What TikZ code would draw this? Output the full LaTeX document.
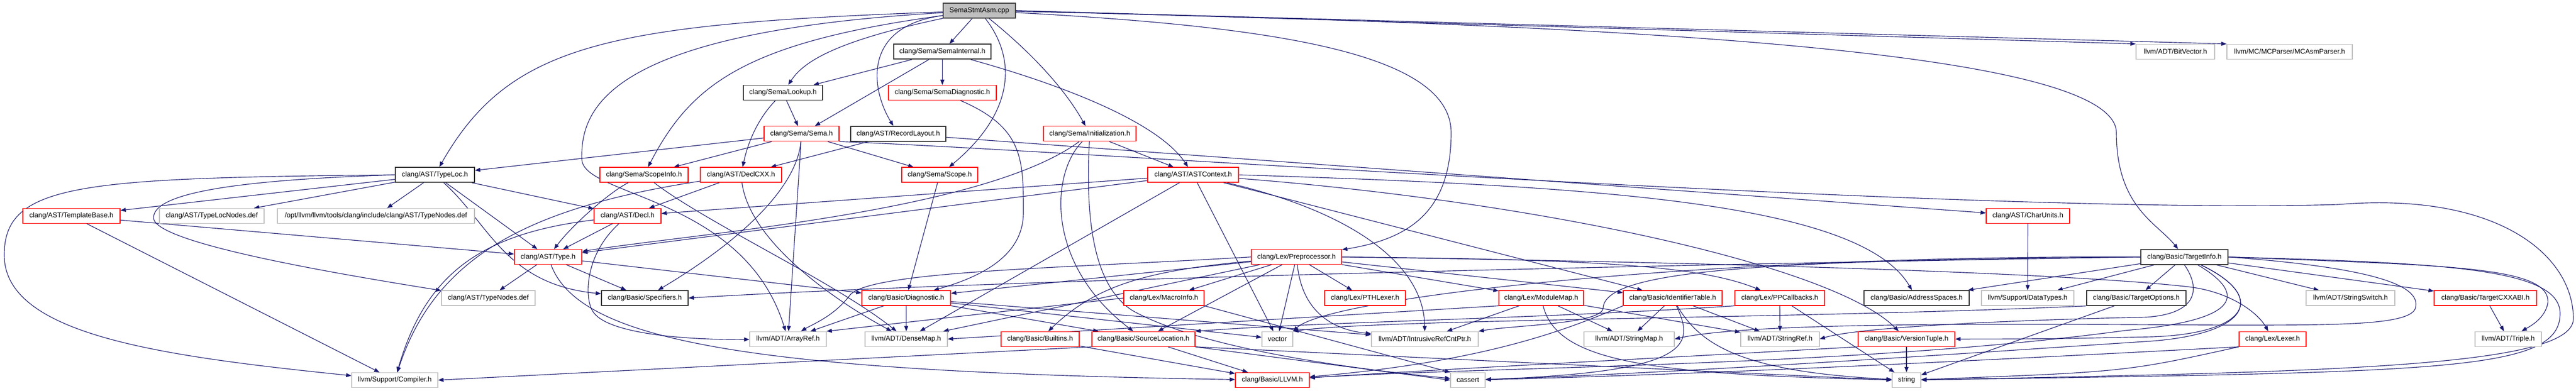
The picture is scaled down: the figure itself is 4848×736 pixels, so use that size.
\documentclass[tikz,border=0pt]{standalone}
\usepackage{fontspec}
\setmainfont{Liberation Sans}
\usetikzlibrary{arrows.meta,backgrounds}
\definecolor{edgec}{HTML}{191970}
\definecolor{grayb}{HTML}{BFBFBF}
\definecolor{mainfill}{HTML}{BFBFBF}
\definecolor{mainbd}{HTML}{404040}
\newcommand{\mknd}[5]{\node[#1,minimum width=#2pt] (#3) at (#4) {#5};}
\begin{document}
\begin{tikzpicture}[x=1pt,y=-1pt,
  nd/.style={draw, fill=white, minimum height=28pt, inner sep=0pt, line width=1.3pt, font=\fontsize{13.1pt}{15pt}\selectfont},
  rd/.style={nd, draw=red},
  bk/.style={nd, draw=black!80, line width=1.7pt},
  gy/.style={nd, draw=grayb},
  mainn/.style={nd, fill=mainfill, draw=mainbd, line width=1.8pt},
  edge/.style={draw=edgec, line width=1.15pt, -{Triangle[length=10pt,width=7.5pt]}}
]
\useasboundingbox (0,0) rectangle (4848,736);

% row 0
\mknd{mainn}{136}{main}{1843,20}{SemaStmtAsm.cpp}
% row 1
\mknd{bk}{183}{SemaInternal}{1773.5,97.3}{clang/Sema/SemaInternal.h}
\mknd{gy}{148}{BitVector}{4094,97.3}{llvm/ADT/BitVector.h}
\mknd{gy}{236}{MCAsmParser}{4309,97.3}{llvm/MC/MCParser/MCAsmParser.h}
% row 2
\mknd{bk}{149}{Lookup}{1473.5,174.6}{clang/Sema/Lookup.h}
\mknd{rd}{203}{SemaDiag}{1773.5,174.6}{clang/Sema/SemaDiagnostic.h}
% row 3
\mknd{rd}{141}{Sema}{1508.5,251.8}{clang/Sema/Sema.h}
\mknd{bk}{179}{RecordLayout}{1690.5,251.8}{clang/AST/RecordLayout.h}
\mknd{rd}{174}{Initialization}{2051,251.8}{clang/Sema/Initialization.h}
% row 4
\mknd{bk}{149}{TypeLoc}{818.5,329.1}{clang/AST/TypeLoc.h}
\mknd{rd}{166}{ScopeInfo}{1212,329.1}{clang/Sema/ScopeInfo.h}
\mknd{rd}{153}{DeclCXX}{1394.5,329.1}{clang/AST/DeclCXX.h}
\mknd{rd}{143}{Scope}{1768.5,329.1}{clang/Sema/Scope.h}
\mknd{rd}{171}{ASTContext}{2245.5,329.1}{clang/AST/ASTContext.h}
% row 5
\mknd{rd}{183}{TemplateBase}{134.5,406.4}{clang/AST/TemplateBase.h}
\mknd{gy}{197}{TypeLocNodes}{398.5,406.4}{clang/AST/TypeLocNodes.def}
\mknd{gy}{371}{OptTypeNodes}{707.5,406.4}{/opt/llvm/llvm/tools/clang/include/clang/AST/TypeNodes.def}
\mknd{rd}{126}{Decl}{1181,406.4}{clang/AST/Decl.h}
\mknd{rd}{157}{CharUnits}{3816.5,406.4}{clang/AST/CharUnits.h}
% row 6
\mknd{rd}{127}{Type}{1031.5,483.7}{clang/AST/Type.h}
\mknd{rd}{170}{Preprocessor}{2440,483.7}{clang/Lex/Preprocessor.h}
\mknd{bk}{164}{TargetInfo}{4111,483.7}{clang/Basic/TargetInfo.h}
% row 7
\mknd{gy}{176}{TypeNodes}{919,561}{clang/AST/TypeNodes.def}
\mknd{bk}{163}{Specifiers}{1213.5,561}{clang/Basic/Specifiers.h}
\mknd{rd}{167}{Diagnostic}{1705.5,561}{clang/Basic/Diagnostic.h}
\mknd{rd}{151}{MacroInfo}{2190.5,561}{clang/Lex/MacroInfo.h}
\mknd{rd}{152}{PTHLexer}{2569,561}{clang/Lex/PTHLexer.h}
\mknd{rd}{159}{ModuleMap}{2900.5,561}{clang/Lex/ModuleMap.h}
\mknd{rd}{186}{IdentTable}{3148,561}{clang/Basic/IdentifierTable.h}
\mknd{rd}{169}{PPCallbacks}{3349.5,561}{clang/Lex/PPCallbacks.h}
\mknd{bk}{198}{AddrSpaces}{3607,561}{clang/Basic/AddressSpaces.h}
\mknd{gy}{174}{DataTypes}{3816,561}{llvm/Support/DataTypes.h}
\mknd{bk}{187}{TargetOptions}{4020.5,561}{clang/Basic/TargetOptions.h}
\mknd{gy}{167}{StringSwitch}{4423.5,561}{llvm/ADT/StringSwitch.h}
\mknd{rd}{193}{TargetCXXABI}{4677.5,561}{clang/Basic/TargetCXXABI.h}
% row 8
\mknd{gy}{144}{ArrayRef}{1483,638.2}{llvm/ADT/ArrayRef.h}
\mknd{gy}{155}{DenseMap}{1705.5,638.2}{llvm/ADT/DenseMap.h}
\mknd{rd}{147}{Builtins}{1957.5,638.2}{clang/Basic/Builtins.h}
\mknd{rd}{194}{SourceLoc}{2152,638.2}{clang/Basic/SourceLocation.h}
\mknd{gy}{58}{vector}{2404,638.2}{vector}
\mknd{gy}{201}{IntrusiveRef}{2681.5,638.2}{llvm/ADT/IntrusiveRefCntPtr.h}
\mknd{gy}{170}{StringMap}{3066,638.2}{llvm/ADT/StringMap.h}
\mknd{gy}{148}{StringRef}{3350,638.2}{llvm/ADT/StringRef.h}
\mknd{rd}{182}{VersionTuple}{3588,638.2}{clang/Basic/VersionTuple.h}
\mknd{rd}{126}{Lexer}{4277,638.2}{clang/Lex/Lexer.h}
\mknd{gy}{125}{Triple}{4720.5,638.2}{llvm/ADT/Triple.h}
% row 9
\mknd{gy}{162}{Compiler}{743,715.5}{llvm/Support/Compiler.h}
\mknd{rd}{139}{LLVMh}{2394.5,715.5}{clang/Basic/LLVM.h}
\mknd{gy}{65}{cassert}{2762.5,715.5}{cassert}
\mknd{gy}{54}{string}{3588,715.5}{string}

\begin{scope}[on background layer]
% main
\draw[edge] (main) -- (SemaInternal);
\draw[edge] (main) .. controls (1620,50) and (1640,170) .. (RecordLayout);
\draw[edge] (main) .. controls (1150,45) and (960,80) .. (TypeLoc);
\draw[edge] (main) .. controls (3000,45) and (3983,90) .. (3983,250) .. controls (3983,390) and (4060,420) .. (TargetInfo);
\draw[edge] (main) .. controls (2400,50) and (2731,100) .. (2731,250) .. controls (2731,400) and (2650,450) .. (Preprocessor);
\draw[edge] (main) .. controls (1930,90) and (2000,160) .. (Initialization);
\draw[edge] (main) .. controls (1560,80) and (1510,120) .. (Lookup);
\draw[edge] (main) .. controls (1920,120) and (1900,220) .. (Scope);
\draw[edge] (main) .. controls (1400,80) and (1300,160) .. (ScopeInfo);
\draw[edge] (main) .. controls (1150,60) and (1092,200) .. (1095,300) .. controls (1098,370) and (1400,370) .. (ArrayRef);
\draw[edge] (main.east) -- (BitVector.north west);
\draw[edge] (main.east) -- (MCAsmParser.north west);
% SemaInternal
\draw[edge] (SemaInternal) -- (Sema);
\draw[edge] (SemaInternal) -- (SemaDiag);
\draw[edge] (SemaInternal) .. controls (2000,160) and (2180,230) .. (ASTContext);
\draw[edge] (SemaInternal) -- (Lookup);
% Lookup
\draw[edge] (Lookup) -- (Sema);
\draw[edge] (Lookup) .. controls (1420,230) and (1405,280) .. (DeclCXX);
% SemaDiagnostic
\draw[edge] (SemaDiag) .. controls (1926,240) and (1926,300) .. (1926,400) .. controls (1926,480) and (1850,520) .. (Diagnostic);
% Sema
\draw[edge] (Sema) -- (TypeLoc);
\draw[edge] (Sema) -- (ScopeInfo);
\draw[edge] (Sema) -- (Scope);
\draw[edge] (Sema) .. controls (1500,350) and (1400,450) .. (Specifiers);
\draw[edge] (Sema) -- (ArrayRef);
\draw[edge] (Sema.south east) .. controls (2000,282) and (3700,405) .. (4400,385) .. controls (4700,360) and (4843,480) .. (4843,600) .. controls (4843,690) and (4400,700) .. (string);
% RecordLayout
\draw[edge] (RecordLayout) -- (DeclCXX);
\draw[edge] (RecordLayout) -- (CharUnits);
% Initialization
\draw[edge] (Initialization) -- (ASTContext);
\draw[edge] (Initialization) .. controls (1850,400) and (1300,440) .. (Type);
\draw[edge] (Initialization) .. controls (1975,330) and (1970,500) .. (SourceLoc);
\draw[edge] (Initialization) .. controls (2042,420) and (2060,540) .. (2132,585) .. controls (2250,650) and (2500,690) .. (cassert);
% ASTContext
\draw[edge] (ASTContext) -- (Decl);
\draw[edge] (ASTContext) -- (Type);
\draw[edge] (ASTContext) -- (DenseMap);
\draw[edge] (ASTContext) -- (vector);
\draw[edge] (ASTContext) .. controls (2550,400) and (2680,500) .. (IntrusiveRef);
\draw[edge] (ASTContext) -- (IdentTable);
\draw[edge] (ASTContext) .. controls (2900,380) and (3450,500) .. (VersionTuple);
\draw[edge] (ASTContext.east) .. controls (3000,350) and (3500,380) .. (AddrSpaces);
% TypeLoc
\draw[edge] (TypeLoc.west) .. controls (150,335) and (8,345) .. (8,480) .. controls (8,630) and (300,670) .. (Compiler);
\draw[edge] (TypeLoc.west) .. controls (400,340) and (289,370) .. (289,410) .. controls (289,455) and (600,510) .. (TypeNodes);
\draw[edge] (TypeLoc) -- (TemplateBase);
\draw[edge] (TypeLoc) -- (TypeLocNodes);
\draw[edge] (TypeLoc) -- (OptTypeNodes);
\draw[edge] (TypeLoc) .. controls (920,420) and (950,535) .. (Specifiers);
\draw[edge] (TypeLoc) -- (Type);
\draw[edge] (TypeLoc) -- (Decl);
% TemplateBase
\draw[edge] (TemplateBase) -- (Type);
\draw[edge] (TemplateBase) -- (Compiler);
% Decl
\draw[edge] (Decl) .. controls (900,440) and (800,520) .. (Compiler);
\draw[edge] (Decl) -- (Type);
\draw[edge] (Decl) .. controls (1100,480) and (1100,560) .. (1115,585) .. controls (1140,630) and (1300,640) .. (ArrayRef);
% DeclCXX
\draw[edge] (DeclCXX) -- (Decl);
\draw[edge] (DeclCXX) .. controls (1000,390) and (820,480) .. (Compiler);
\draw[edge] (DeclCXX) .. controls (1410,450) and (1560,560) .. (DenseMap);
% ScopeInfo
\draw[edge] (ScopeInfo) .. controls (1150,360) and (1080,420) .. (Type);
\draw[edge] (ScopeInfo) .. controls (1330,420) and (1570,530) .. (DenseMap);
% Scope
\draw[edge] (Scope) -- (Diagnostic);
% Type
\draw[edge] (Type) -- (TypeNodes);
\draw[edge] (Type) -- (Specifiers);
\draw[edge] (Type) -- (Diagnostic);
\draw[edge] (Type) .. controls (1090,640) and (1400,700) .. (LLVMh);
% CharUnits
\draw[edge] (CharUnits) -- (DataTypes);
% Preprocessor
\draw[edge] (Preprocessor) -- (Diagnostic);
\draw[edge] (Preprocessor) -- (DenseMap);
\draw[edge] (Preprocessor) .. controls (2150,510) and (2060,540) .. (Builtins);
\draw[edge] (Preprocessor) -- (MacroInfo);
\draw[edge] (Preprocessor) -- (SourceLoc);
\draw[edge] (Preprocessor) -- (vector);
\draw[edge] (Preprocessor) .. controls (2450,580) and (2500,620) .. (IntrusiveRef);
\draw[edge] (Preprocessor) -- (PTHLexer);
\draw[edge] (Preprocessor) -- (ModuleMap);
\draw[edge] (Preprocessor) -- (IdentTable);
\draw[edge] (Preprocessor.east) .. controls (3000,488) and (3200,500) .. (PPCallbacks);
\draw[edge] (Preprocessor.east) .. controls (3300,495) and (3900,515) .. (4120,540) .. controls (4200,550) and (4250,590) .. (Lexer);
\draw[edge] (Preprocessor.west) .. controls (2000,505) and (1640,510) .. (1600,555) .. controls (1570,595) and (1530,610) .. (ArrayRef);
% Diagnostic
\draw[edge] (Diagnostic) -- (ArrayRef);
\draw[edge] (Diagnostic) -- (DenseMap);
\draw[edge] (Diagnostic) -- (SourceLoc);
\draw[edge] (Diagnostic) -- (vector);
\draw[edge] (Diagnostic) -- (IntrusiveRef);
% MacroInfo
\draw[edge] (MacroInfo.west) -- (ArrayRef.north east);
\draw[edge] (MacroInfo.south east) -- (cassert.north west);
% ModuleMap
\draw[edge] (ModuleMap.south west) -- (DenseMap.east);
\draw[edge] (ModuleMap) -- (IntrusiveRef);
\draw[edge] (ModuleMap) -- (StringMap);
\draw[edge] (ModuleMap) -- (StringRef);
\draw[edge] (ModuleMap) .. controls (2930,680) and (3100,705) .. (string);
% IdentifierTable
\draw[edge] (IdentTable.south west) .. controls (2950,620) and (2800,680) .. (LLVMh);
\draw[edge] (IdentTable) -- (StringMap);
\draw[edge] (IdentTable) -- (StringRef);
\draw[edge] (IdentTable) .. controls (3190,650) and (3185,700) .. (cassert);
\draw[edge] (IdentTable) .. controls (3200,650) and (3280,700) .. (string);
% PPCallbacks
\draw[edge] (PPCallbacks.south west) .. controls (2900,600) and (2500,605) .. (SourceLoc.north east);
\draw[edge] (PPCallbacks) -- (StringRef);
\draw[edge] (PPCallbacks) -- (string);
% TargetOptions
\draw[edge] (TargetOptions.south west) .. controls (3400,600) and (2600,600) .. (vector.north east);
\draw[edge] (TargetOptions) -- (string);
% TargetCXXABI
\draw[edge] (TargetCXXABI) -- (Triple);
% TargetInfo
\draw[edge] (TargetInfo.west) .. controls (3000,500) and (1800,530) .. (Specifiers.east);
\draw[edge] (TargetInfo.west) .. controls (3300,490) and (3020,510) .. (3017,580) .. controls (3015,610) and (2850,612) .. (IntrusiveRef.north east);
\draw[edge] (TargetInfo.west) .. controls (3200,480) and (2500,560) .. (vector.north east);
\draw[edge] (TargetInfo) -- (AddrSpaces);
\draw[edge] (TargetInfo) -- (DataTypes);
\draw[edge] (TargetInfo) -- (TargetOptions);
\draw[edge] (TargetInfo.south) .. controls (4140,540) and (4140,590) .. (4040,597) .. controls (3800,602) and (3500,615) .. (StringRef.east);
\draw[edge] (TargetInfo) .. controls (4240,560) and (4200,605) .. (4000,622) .. controls (3500,690) and (2800,690) .. (LLVMh);
\draw[edge] (TargetInfo) .. controls (4270,560) and (4230,628) .. (4050,634) .. controls (3850,638) .. (VersionTuple.east);
\draw[edge] (TargetInfo) -- (StringSwitch);
\draw[edge] (TargetInfo) -- (TargetCXXABI);
\draw[edge] (TargetInfo.east) .. controls (4480,505) and (4560,540) .. (4545,582) .. controls (4530,612) and (4400,612) .. (4200,612) .. controls (3800,610) and (3300,605) .. (StringMap.east);
\draw[edge] (TargetInfo.east) .. controls (4600,500) and (4800,500) .. (4795,570) .. controls (4790,600) and (4760,615) .. (Triple);
\draw[edge] (TargetInfo.east) .. controls (4600,495) and (4818,505) .. (4818,590) .. controls (4818,700) and (4600,700) .. (string);
\draw[edge] (TargetInfo) .. controls (4270,560) and (4230,628) .. (4050,642) .. controls (3700,665) and (3200,700) .. (cassert);
% Lexer
\draw[edge] (Lexer.south west) .. controls (3700,680) and (3200,705) .. (cassert);
\draw[edge] (Lexer.south west) .. controls (4000,700) .. (string);
% VersionTuple
\draw[edge] (VersionTuple) -- (string);
\draw[edge] (VersionTuple.south west) .. controls (3200,670) and (2800,690) .. (LLVMh);
% SourceLocation
\draw[edge] (SourceLoc) -- (LLVMh);
\draw[edge] (SourceLoc.south west) -- (Compiler.east);
\draw[edge] (SourceLoc.south east) -- (string.west);
\draw[edge] (SourceLoc.south east) -- (cassert.west);
% Builtins
\draw[edge] (Builtins) -- (LLVMh);
\end{scope}
\end{tikzpicture}
\end{document}
